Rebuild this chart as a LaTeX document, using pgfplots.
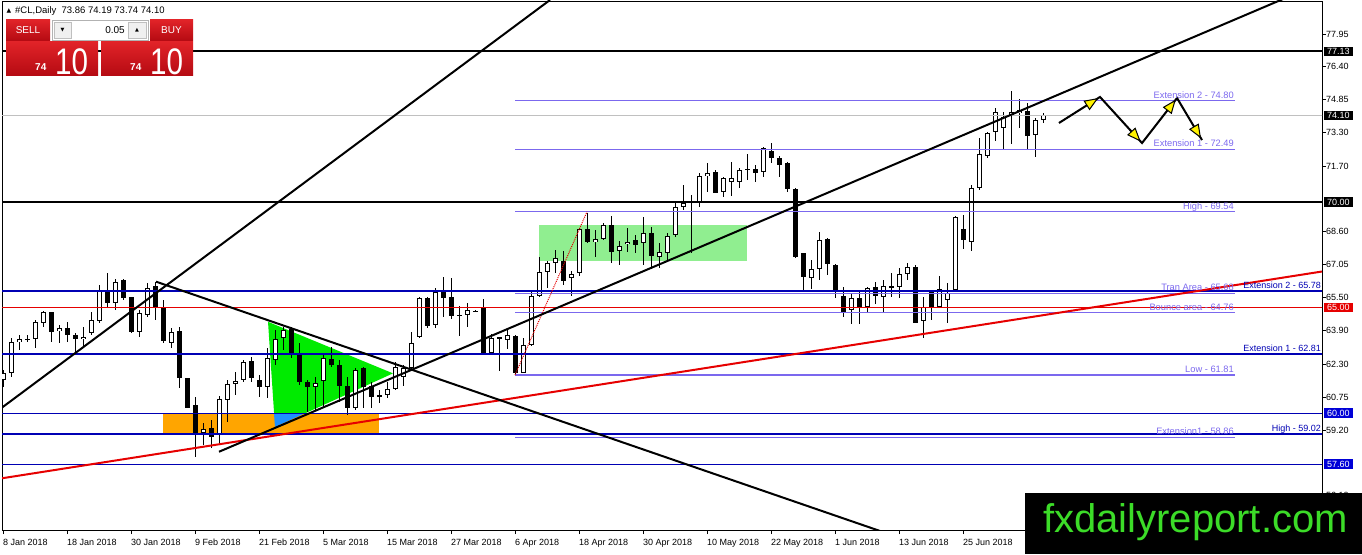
\documentclass[border=0pt]{standalone}
\usepackage{fontspec}
\setmainfont{Liberation Sans}
\newfontfamily\dejavu{DejaVu Sans}
\usepackage{pgfplots}
\usepackage{pgfplotstable}
\pgfplotsset{compat=1.18}
\usetikzlibrary{arrows.meta}

\definecolor{mtblue}{RGB}{0,0,180}
\definecolor{boxblue}{RGB}{0,0,215}
\definecolor{mtpurple}{RGB}{123,104,238}
\definecolor{mtred}{RGB}{230,0,0}
\definecolor{rectgreen}{RGB}{144,238,144}
\definecolor{trigreen}{RGB}{0,235,0}
\definecolor{mtorange}{RGB}{255,165,0}
\definecolor{triblue}{RGB}{30,144,255}
\definecolor{bidgray}{RGB}{192,192,192}
\definecolor{redtop}{RGB}{225,35,40}
\definecolor{redbot}{RGB}{180,10,18}
\definecolor{wmgreen}{RGB}{60,220,40}

\newcommand\lbl{\fontsize{9}{10}\selectfont}
\newcommand\plbl{\fontsize{9.3}{10}\selectfont}

% daily candles, x = bar number from 8 Jan 2018
\pgfplotstableread{
x o h l c
0 61.58 62.05 61.26 61.89
1 61.89 63.55 61.73 63.39
2 63.39 63.71 63.00 63.50
3 63.47 63.71 63.39 63.53
4 63.50 64.42 63.07 64.34
5 64.26 64.84 64.10 64.78
7 63.89 64.18 63.31 64.02
10 63.50 64.10 63.15 63.60
11 63.79 64.81 63.71 64.42
12 64.38 66.07 64.26 65.83
14 65.20 66.34 64.89 66.23
17 63.86 64.89 63.63 64.73
18 64.65 66.18 64.57 65.91
21 63.31 64.02 63.07 63.86
25 59.05 59.53 58.50 59.26
27 58.97 60.84 58.58 60.66
28 60.63 61.58 59.60 61.37
29 61.39 61.97 60.87 61.54
30 61.58 62.52 61.50 62.41
33 61.26 63.07 60.71 62.60
34 62.52 63.94 62.29 63.50
35 63.55 64.10 63.00 63.94
39 61.26 61.73 60.16 61.42
40 61.53 62.76 60.31 62.60
44 60.24 62.13 60.16 62.05
48 60.87 61.50 60.71 61.13
49 61.13 62.44 61.10 62.21
50 61.73 62.29 61.29 62.13
51 62.13 63.86 62.05 63.34
52 63.63 65.52 63.55 65.44
54 64.18 65.91 64.02 65.76
58 64.65 65.20 64.10 64.89
61 62.84 63.75 62.84 63.55
63 63.47 63.97 63.03 63.70
65 61.92 63.55 61.89 63.23
66 63.23 65.83 63.18 65.55
67 65.55 67.41 65.49 66.69
68 66.70 67.22 65.91 67.10
69 67.13 67.73 66.62 67.33
71 66.39 66.73 65.55 66.58
72 66.62 68.75 66.51 68.70
74 68.12 68.67 67.41 68.23
75 68.23 68.99 68.20 68.91
77 67.70 68.15 67.02 67.93
78 67.99 68.75 67.65 68.12
80 68.04 69.30 67.02 68.55
82 67.41 68.08 66.86 67.65
83 67.60 68.52 67.26 68.39
84 68.44 69.97 68.36 69.75
85 69.78 70.80 69.62 69.94
86 70.02 70.33 67.60 70.06
87 70.02 71.36 69.78 71.23
88 71.23 71.83 70.49 71.36
90 70.49 71.20 70.26 71.12
91 70.96 71.88 70.26 71.12
92 70.96 71.59 70.65 71.51
93 71.55 72.27 71.04 71.56
95 71.43 72.58 71.20 72.54
101 66.42 67.26 65.87 66.81
102 66.81 68.60 66.31 68.20
106 64.89 65.68 64.23 65.47
108 65.05 65.99 64.81 65.91
110 65.49 66.31 64.81 66.02
111 65.98 66.62 65.52 66.01
112 65.99 66.86 65.44 66.58
113 66.59 67.13 66.31 66.94
115 64.38 65.52 63.55 65.05
117 65.05 66.50 64.97 65.87
118 65.36 66.18 64.29 65.68
119 65.83 69.34 65.80 69.30
121 68.12 70.80 67.70 70.65
122 70.65 73.01 70.57 72.27
123 72.18 73.33 72.07 73.25
124 73.30 74.43 72.89 74.24
125 73.49 74.27 72.51 74.01
126 74.07 75.25 72.73 74.27
127 74.20 74.87 73.49 74.35
129 73.17 73.96 72.11 73.88
130 73.86 74.19 73.74 74.10
}\bull

\pgfplotstableread{
x o h l c
6 64.78 64.81 63.39 63.83
8 64.02 64.34 63.39 63.71
9 63.71 63.79 62.84 63.50
13 65.83 66.62 64.97 65.20
15 66.31 66.34 65.36 65.44
16 65.49 65.52 63.79 63.86
19 66.02 66.23 64.42 64.97
20 65.01 65.36 63.31 63.44
22 63.89 64.10 61.18 61.65
23 61.65 61.69 60.24 60.27
24 60.39 60.79 57.95 59.05
26 59.29 59.68 58.34 58.89
31 62.47 62.68 61.50 61.65
32 61.58 61.81 60.79 61.26
36 63.99 64.07 62.60 62.84
37 62.79 63.34 61.34 61.50
38 61.50 61.58 60.08 61.26
41 62.55 63.15 62.21 62.29
42 62.29 62.52 60.55 61.31
43 61.29 61.73 59.92 60.24
45 62.13 62.21 60.24 61.26
46 61.29 61.50 60.24 60.79
47 60.84 61.10 60.47 60.80
53 65.44 65.52 64.02 64.13
55 65.76 66.47 64.57 65.44
56 65.52 66.39 64.45 64.60
57 64.67 65.08 63.67 64.63
59 64.84 64.87 64.81 64.83
60 65.02 65.39 62.84 62.87
62 63.58 63.63 62.00 63.56
64 63.66 63.70 61.86 61.89
70 67.21 67.68 66.07 66.28
73 68.70 69.49 68.04 68.09
76 68.91 69.34 67.10 67.65
79 68.20 68.44 67.57 67.96
81 68.52 68.83 66.84 67.44
89 71.43 71.51 70.41 70.44
94 71.55 71.75 70.96 71.36
96 72.43 72.78 71.83 72.07
97 72.07 72.17 71.20 71.75
98 71.83 71.88 70.49 70.60
99 70.60 70.65 67.33 67.41
100 67.57 67.60 65.84 66.47
103 68.25 68.28 66.54 67.05
104 67.02 67.05 65.44 65.76
105 65.57 65.99 64.54 64.81
107 65.44 65.83 64.23 64.97
109 65.96 66.23 65.17 65.55
114 66.94 67.02 64.26 64.29
116 65.80 65.83 64.41 65.00
120 68.72 69.38 67.76 68.20
128 74.31 74.67 72.51 73.12
}\bear

\pgfplotsset{
  wick/.style={draw=none, mark=none, forget plot,
    error bars/.cd, y dir=both, y explicit, error mark=none,
    error bar style={draw=black, line width=1pt}},
  body/.style={draw=none, mark=none, forget plot,
    error bars/.cd, y dir=both, y explicit, error mark=none,
    error bar style={draw=#1, line width=5pt}},
  hollow/.style={draw=none, mark=none, forget plot,
    error bars/.cd, y dir=both, y explicit, error mark=none,
    error bar style={draw=white, line width=3pt}},
}

\begin{document}
\begin{tikzpicture}[x=1pt,y=1pt]
\useasboundingbox (0,0) rectangle (1362,554);
\begin{axis}[
  at={(2pt,24pt)}, anchor=south west,
  scale only axis, width=1320pt, height=529pt,
  xmin=-0.125, xmax=164.875, ymin=54.477, ymax=79.512,
  clip mode=individual,
  axis line style={black, line width=0.8pt},
  tick align=outside, major tick length=4pt,
  tick style={black, line width=0.8pt},
  xtick pos=bottom, ytick pos=right, yticklabel pos=right,
  xtick={0,8,...,120},
  xticklabels={8 Jan 2018,18 Jan 2018,30 Jan 2018,9 Feb 2018,21 Feb 2018,5 Mar 2018,15 Mar 2018,27 Mar 2018,6 Apr 2018,18 Apr 2018,30 Apr 2018,10 May 2018,22 May 2018,1 Jun 2018,13 Jun 2018,25 Jun 2018},
  ytick={56.10,59.20,60.75,62.30,63.90,65.50,67.05,68.60,71.70,73.30,74.85,76.40,77.95},
  yticklabels={56.10,59.20,60.75,62.30,63.90,65.50,67.05,68.60,71.70,73.30,74.85,76.40,77.95},
  ticklabel style={font=\lbl},
  xticklabel style={anchor=north west, inner sep=0pt, yshift=-5pt},
  yticklabel style={anchor=west, inner sep=0pt},
]
% filled zones behind the candles
\addplot[draw=none, fill=rectgreen] coordinates {(67,67.21) (93,67.21) (93,68.91) (67,68.91)} -- cycle;
\addplot[draw=none, fill=trigreen] coordinates {(33.125,64.33) (48.75,61.89) (34.0,59.35)} -- cycle;
\addplot[draw=none, fill=mtorange] coordinates {(20,59.02) (47,59.02) (47,59.97) (20,59.97)} -- cycle;
\addplot[draw=none, fill=triblue] coordinates {(33.875,59.97) (37.55,59.97) (34.0,59.35)} -- cycle;

% candles
\addplot[wick] table[x=x, y expr={(\thisrow{h}+\thisrow{l})/2}, y error expr={(\thisrow{h}-\thisrow{l})/2}] {\bull};
\addplot[wick] table[x=x, y expr={(\thisrow{h}+\thisrow{l})/2}, y error expr={(\thisrow{h}-\thisrow{l})/2}] {\bear};
\addplot[body=black] table[x=x, y expr={(\thisrow{o}+\thisrow{c})/2}, y error expr={max(abs(\thisrow{c}-\thisrow{o})/2,0.025)}] {\bull};
\addplot[body=black] table[x=x, y expr={(\thisrow{o}+\thisrow{c})/2}, y error expr={max(abs(\thisrow{c}-\thisrow{o})/2,0.025)}] {\bear};
\addplot[hollow] table[x=x, y expr={(\thisrow{o}+\thisrow{c})/2}, y error expr={max(abs(\thisrow{c}-\thisrow{o})/2-0.047,0)}] {\bull};

% horizontal levels
\addplot[bidgray, line width=0.8pt] coordinates {(-1,74.10) (166,74.10)};
\addplot[black, line width=2.2pt] coordinates {(-1,77.13) (166,77.13)};
\addplot[black, line width=2.2pt] coordinates {(-1,70.00) (166,70.00)};
\addplot[mtred, line width=1pt] coordinates {(-1,65.00) (166,65.00)};
\addplot[mtblue, line width=2.5pt] coordinates {(-1,65.78) (166,65.78)};
\addplot[mtblue, line width=2.5pt] coordinates {(-1,62.81) (166,62.81)};
\addplot[mtblue, line width=2.5pt] coordinates {(-1,59.02) (166,59.02)};
\addplot[mtblue, line width=1pt] coordinates {(-1,60.00) (166,60.00)};
\addplot[mtblue, line width=1pt] coordinates {(-1,57.60) (166,57.60)};

% fibonacci levels
\addplot[mtpurple, line width=1.5pt] coordinates {(64,74.80) (154,74.80)};
\addplot[mtpurple, line width=1.5pt] coordinates {(64,72.49) (154,72.49)};
\addplot[mtpurple, line width=1.5pt] coordinates {(64,69.54) (154,69.54)};
\addplot[mtpurple, line width=1.5pt] coordinates {(64,65.68) (154,65.68)};
\addplot[mtpurple, line width=1.5pt] coordinates {(64,64.76) (154,64.76)};
\addplot[mtpurple, line width=1.5pt] coordinates {(64,61.81) (154,61.81)};
\addplot[mtpurple, line width=1.5pt] coordinates {(64,58.86) (154,58.86)};
\addplot[mtred, densely dotted, line width=1pt] coordinates {(64,61.81) (73,69.54)};

% trend lines
\addplot[mtred, line width=2pt] coordinates {(-0.375,56.91) (164.875,66.71)};
\addplot[black, line width=2pt] coordinates {(-0.375,60.20) (68.375,79.56)};
\addplot[black, line width=2pt] coordinates {(19.125,66.23) (109.625,54.43)};
\addplot[black, line width=2pt] coordinates {(27,58.18) (164.875,80.39)};

% projected path
\addplot[black, line width=2pt] coordinates {(132,73.74) (137.125,74.97) (142.375,72.79) (146.75,74.92) (149.875,72.93)};
\addplot[black, line width=1pt, -{Triangle[length=14pt,width=11pt,fill=yellow]}, shorten >=2pt] coordinates {(132,73.74) (137.125,74.97)};
\addplot[black, line width=1pt, -{Triangle[length=14pt,width=11pt,fill=yellow]}, shorten >=2pt] coordinates {(137.125,74.97) (142.375,72.79)};
\addplot[black, line width=1pt, -{Triangle[length=14pt,width=11pt,fill=yellow]}, shorten >=2pt] coordinates {(142.375,72.79) (146.75,74.92)};
\addplot[black, line width=1pt, -{Triangle[length=14pt,width=11pt,fill=yellow]}, shorten >=2pt] coordinates {(146.75,74.92) (149.875,72.93)};

% level captions
\begin{scope}[every node/.style={anchor=base east, inner sep=0pt, yshift=2.5pt}]
\node[text=mtpurple, font=\plbl] at (axis cs:153.875,74.80) {Extension 2 - 74.80};
\node[text=mtpurple, font=\plbl] at (axis cs:153.875,72.49) {Extension 1 - 72.49};
\node[text=mtpurple, font=\plbl] at (axis cs:153.875,69.54) {High - 69.54};
\node[text=mtpurple, font=\plbl] at (axis cs:153.875,65.68) {Tran Area - 65.68};
\node[text=mtpurple, font=\plbl] at (axis cs:153.875,64.76) {Bounce area - 64.76};
\node[text=mtpurple, font=\plbl] at (axis cs:153.875,61.81) {Low - 61.81};
\node[text=mtpurple, font=\plbl] at (axis cs:153.875,58.86) {Extension1 - 58.86};
\node[text=mtblue, font=\lbl] at (axis cs:164.75,65.78) {Extension 2 - 65.78};
\node[text=mtblue, font=\lbl] at (axis cs:164.75,62.81) {Extension 1 - 62.81};
\node[text=mtblue, font=\lbl] at (axis cs:164.75,59.02) {High - 59.02};
\end{scope}

% price tags on the scale
\begin{scope}[every node/.style={anchor=west, xshift=1.5pt, text=white, font=\lbl, inner xsep=3.5pt, inner ysep=1.6pt, text height=6.4pt, text depth=0pt}]
\node[fill=black] at (axis cs:164.875,77.13) {77.13};
\node[fill=black] at (axis cs:164.875,74.10) {74.10};
\node[fill=black] at (axis cs:164.875,70.00) {70.00};
\node[fill=mtred] at (axis cs:164.875,65.00) {65.00};
\node[fill=boxblue] at (axis cs:164.875,60.00) {60.00};
\node[fill=boxblue] at (axis cs:164.875,57.60) {57.60};
\end{scope}
\end{axis}

% chart header
\node[font=\dejavu\fontsize{6}{6}\selectfont, inner sep=0pt] at (9,543) {▲};
\node[anchor=west, inner sep=0pt, font=\fontsize{9.5}{10}\selectfont] at (15,543) {\#CL,Daily\ \ 73.86 74.19 73.74 74.10};

% one-click trading panel
\shade[top color=redtop, bottom color=redbot] (6,534) rectangle (50,513);
\node[text=white, font=\fontsize{10}{10}\selectfont] at (28,523.5) {SELL};
\draw[gray!60, fill=white] (52,534) rectangle (148,514);
\draw[gray!50, fill=gray!12] (54,532) rectangle (71,516);
\draw[gray!50, fill=gray!12] (128,532) rectangle (146,516);
\node[font=\dejavu\fontsize{5}{5}\selectfont, inner sep=0pt] at (62.5,524) {▼};
\node[font=\dejavu\fontsize{5}{5}\selectfont, inner sep=0pt] at (137,524) {▲};
\node[anchor=east, inner sep=0pt, font=\fontsize{10}{10}\selectfont] at (125,524) {0.05};
\shade[top color=redtop, bottom color=redbot] (150,534) rectangle (193,513);
\node[text=white, font=\fontsize{10}{10}\selectfont] at (171.5,523.5) {BUY};
\shade[top color=redtop, bottom color=redbot] (6,512) rectangle (98,478);
\shade[top color=redtop, bottom color=redbot] (101,512) rectangle (193,478);
\node[anchor=base west, inner sep=0pt, text=white, font=\bfseries\fontsize{10}{10}\selectfont] at (35,483) {74};
\node[anchor=base west, inner sep=0pt, text=white] at (55,479.5) {\scalebox{0.8}[1]{\fontsize{37}{37}\selectfont 10}};
\node[anchor=base west, inner sep=0pt, text=white, font=\bfseries\fontsize{10}{10}\selectfont] at (130,483) {74};
\node[anchor=base west, inner sep=0pt, text=white] at (150,479.5) {\scalebox{0.8}[1]{\fontsize{37}{37}\selectfont 10}};

% watermark
\fill[black] (1025,0) rectangle (1362,61);
\node[anchor=base west, inner sep=0pt, text=wmgreen, font=\fontsize{40}{40}\selectfont] at (1043,21) {fxdailyreport.com};
\end{tikzpicture}
\end{document}
